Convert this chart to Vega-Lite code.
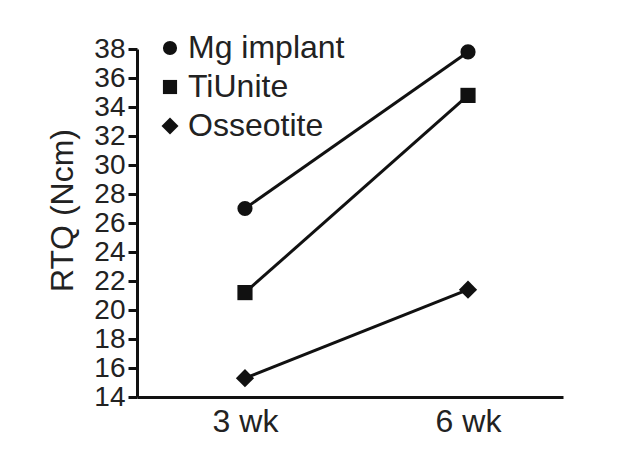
{
  "$schema": "https://vega.github.io/schema/vega-lite/v6.json",
  "width": 426,
  "height": 348,
  "autosize": {"type": "none"},
  "padding": {"left": 137, "top": 49, "right": 56, "bottom": 60},
  "background": "white",
  "data": {
    "values": [
      {"series": "Mg implant", "time": "3 wk", "rtq": 27.0},
      {"series": "Mg implant", "time": "6 wk", "rtq": 37.8},
      {"series": "TiUnite", "time": "3 wk", "rtq": 21.2},
      {"series": "TiUnite", "time": "6 wk", "rtq": 34.8},
      {"series": "Osseotite", "time": "3 wk", "rtq": 15.3},
      {"series": "Osseotite", "time": "6 wk", "rtq": 21.4}
    ]
  },
  "config": {
    "view": {"stroke": null},
    "font": "Liberation Sans",
    "axis": {
      "domainColor": "#111",
      "domainWidth": 3,
      "tickColor": "#111",
      "tickWidth": 3,
      "labelColor": "#222",
      "labelFont": "Liberation Sans",
      "titleFont": "Liberation Sans",
      "titleColor": "#222",
      "grid": false
    }
  },
  "encoding": {
    "x": {
      "field": "time",
      "type": "nominal",
      "sort": ["3 wk", "6 wk"],
      "scale": {"type": "point", "padding": 0.455, "align": 0.532},
      "axis": {
        "title": null,
        "labelAngle": 0,
        "labelFontSize": 32,
        "ticks": false,
        "labelPadding": 9
      }
    },
    "y": {
      "field": "rtq",
      "type": "quantitative",
      "scale": {"domain": [14, 38], "nice": false, "zero": false},
      "axis": {
        "title": "RTQ (Ncm)",
        "titleFontSize": 32,
        "titleFontWeight": "normal",
        "titlePadding": 14,
        "titleY": 161,
        "values": [14, 16, 18, 20, 22, 24, 26, 28, 30, 32, 34, 36, 38],
        "labelFontSize": 28,
        "tickSize": 9,
        "labelPadding": 3,
        "labelOverlap": false,
        "labelFlush": false
      }
    }
  },
  "layer": [
    {
      "mark": {"type": "line", "color": "#111", "strokeWidth": 3},
      "encoding": {"detail": {"field": "series", "type": "nominal"}}
    },
    {
      "mark": {"type": "point", "filled": true, "color": "#111", "opacity": 1, "size": 230},
      "encoding": {
        "shape": {
          "field": "series",
          "type": "nominal",
          "scale": {
            "domain": ["Mg implant", "TiUnite", "Osseotite"],
            "range": ["circle", "M-1,-1H1V1H-1Z", "M-1.2,0L0,-1.2L1.2,0L0,1.2Z"]
          },
          "legend": {
            "title": null,
            "orient": "none",
            "legendX": 17,
            "legendY": -17,
            "padding": 0,
            "labelFontSize": 32,
            "labelColor": "#222",
            "labelFont": "Liberation Sans",
            "labelOffset": 2,
            "rowPadding": 7,
            "symbolSize": 200,
            "symbolFillColor": "#111",
            "symbolStrokeWidth": 0
          }
        }
      }
    }
  ]
}
